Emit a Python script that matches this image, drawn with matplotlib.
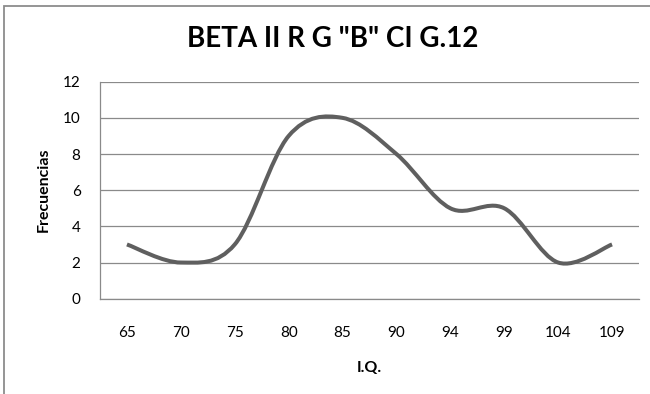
import numpy as np
import matplotlib
matplotlib.use("Agg")
import matplotlib.pyplot as plt
from matplotlib.path import Path
from matplotlib.patches import PathPatch, Rectangle

# Frequency distribution of I.Q. scores
iq_labels = ["65", "70", "75", "80", "85", "90", "94", "99", "104", "109"]
frecuencias = [3, 2, 3, 9, 10, 8, 5, 5, 2, 3]
y_ticks = [0, 2, 4, 6, 8, 10, 12]

plt.rcParams["font.family"] = ["Lato", "DejaVu Sans"]

W, H = 650, 394
fig = plt.figure(figsize=(W / 100, H / 100), dpi=100)

# Chart-area border (open toward right and bottom)
fig.patches.append(Rectangle((4 / W, -0.1), 1.2, 1 - 6.5 / H + 0.1,
                             transform=fig.transFigure, fill=False,
                             edgecolor="#8c8c8c", linewidth=1.3))

left, right = 100 / W, 639 / W
bottom, top = 1 - 298.7 / H, 1 - 81.7 / H
ax = fig.add_axes([left, bottom, right - left, top - bottom])

x = np.arange(len(frecuencias), dtype=float)
y = np.asarray(frecuencias, dtype=float)

# Smoothed line built from cubic Bezier segments (Catmull-Rom style)
xp = np.concatenate([[x[0]], x, [x[-1]]])
yp = np.concatenate([[y[0]], y, [y[-1]]])
verts = [(x[0], y[0])]
codes = [Path.MOVETO]
for i in range(len(x) - 1):
    j = i + 1
    c1 = (xp[j] + (xp[j + 1] - xp[j - 1]) / 6, yp[j] + (yp[j + 1] - yp[j - 1]) / 6)
    c2 = (xp[j + 1] - (xp[j + 2] - xp[j]) / 6, yp[j + 1] - (yp[j + 2] - yp[j]) / 6)
    verts += [c1, c2, (xp[j + 1], yp[j + 1])]
    codes += [Path.CURVE4] * 3
ax.add_patch(PathPatch(Path(verts, codes), facecolor="none",
                       edgecolor="#5f5f5f", linewidth=2.9,
                       capstyle="butt", joinstyle="round", zorder=3))

ax.set_xlim(-0.5, len(frecuencias) - 0.5)
ax.set_ylim(0, 12)
ax.set_yticks(y_ticks)
ax.set_xticks(x)
ax.set_xticklabels(iq_labels)
ax.tick_params(axis="both", length=0, labelsize=11, colors="black")
ax.tick_params(axis="x", pad=20)
ax.tick_params(axis="y", pad=14)

ax.grid(axis="y", color="#8a8a8a", linewidth=0.9)
ax.set_axisbelow(True)
for s in ["top", "right"]:
    ax.spines[s].set_visible(False)
for s in ["left", "bottom"]:
    ax.spines[s].set_color("#8a8a8a")
    ax.spines[s].set_linewidth(0.9)

ax.set_ylabel("Frecuencias", fontsize=11.5, fontweight="bold", labelpad=9)
ax.set_xlabel("I.Q.", fontsize=11.5, fontweight="bold", labelpad=15)

fig.text(333 / W, 1 - 39 / H, 'BETA II R G "B" CI G.12',
         ha="center", va="center", fontsize=20, fontweight="bold")

fig.savefig("out.png", dpi=100, facecolor="white")
